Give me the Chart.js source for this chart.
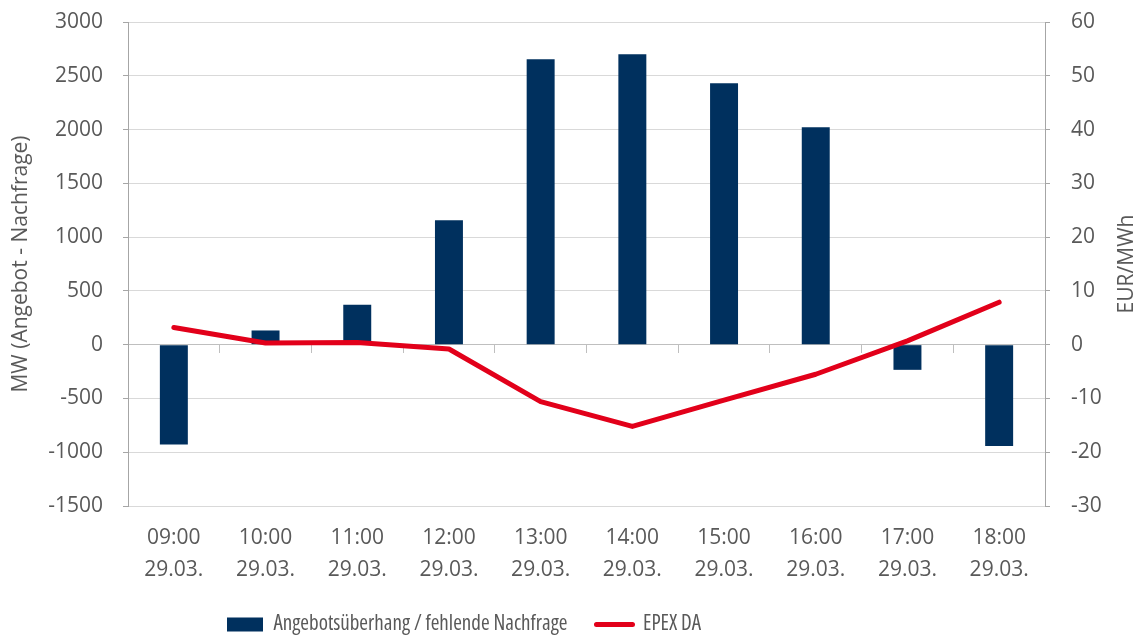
<!DOCTYPE html>
<html>
<head>
<meta charset="utf-8">
<script src="https://cdn.jsdelivr.net/npm/chart.js@4.4.1/dist/chart.umd.min.js"></script>
<style>
  html, body { margin: 0; padding: 0; background: #fff; }
  #wrap { width: 1143px; height: 635px; position: relative; }
</style>
</head>
<body>
<div id="wrap"><canvas id="c"></canvas></div>
<script>
// Stunden und Datum (zweizeilige Achsenbeschriftung)
const TIMES = ['09:00', '10:00', '11:00', '12:00', '13:00', '14:00', '15:00', '16:00', '17:00', '18:00'];
const DATES = ['29.03.', '29.03.', '29.03.', '29.03.', '29.03.', '29.03.', '29.03.', '29.03.', '29.03.', '29.03.'];

// MW (Angebot - Nachfrage)
const SURPLUS_MW = [-928, 132, 370, 1157, 2654, 2701, 2431, 2022, -234, -943];
// EUR/MWh
const EPEX_DA = [3.2, 0.3, 0.4, -0.8, -10.6, -15.2, -10.3, -5.5, 0.7, 7.9];

const MW_AXIS = { min: -1500, max: 3000, step: 500 };
const EUR_AXIS = { min: -30, max: 60, step: 10 };

const BAR_LABEL = 'Angebotsüberhang / fehlende Nachfrage';
const LINE_LABEL = 'EPEX DA';
const LEFT_TITLE = 'MW (Angebot - Nachfrage)';
const RIGHT_TITLE = 'EUR/MWh';

const NAVY = '#00305e', RED = '#e2001a';
const TEXT = '#595959', GRID = '#d9d9d9', AXIS = '#a6a6a6';
const FAMILY = "'Open Sans', sans-serif";
const SIZE = 21;

Chart.defaults.animation = false;
Chart.defaults.font.family = FAMILY;
Chart.defaults.font.size = SIZE;
Chart.defaults.color = TEXT;

const LEGEND_PAD = 29;

// y-Achsen: feste Breite, kein Zusatzabstand oben/unten durch die Beschriftung
const fixY = w => s => { s.width = w; s.paddingTop = 0; s.paddingBottom = 0; };

// Rechter Achsentitel von unten nach oben lesen (wie links);
// Legende an feste Position wie in der Vorlage.
const tweaks = {
  id: 'tweaks',
  beforeLayout(chart) {
    const lg = chart.legend;
    if (lg && !lg._fixed) {
      const fit = lg.fit;
      lg.fit = function () { fit.call(this); this.height = 30; };
      lg._fixed = true;
    }
  },
  afterLayout(chart) {
    const lg = chart.legend;
    if (!lg) return;
    lg.left = 227 - LEGEND_PAD;
    lg.top = 585;
    lg.bottom = chart.height;
    lg.height = lg.bottom - lg.top;
  },
  afterDraw(chart) {
    const s = chart.scales.y2, a = chart.chartArea, ctx = chart.ctx;
    ctx.save();
    ctx.translate(s.right - 16, (a.top + a.bottom) / 2);
    ctx.rotate(-Math.PI / 2);
    ctx.font = `${SIZE}px ${FAMILY}`;
    ctx.fillStyle = TEXT;
    ctx.textAlign = 'center';
    ctx.textBaseline = 'middle';
    ctx.fillText(RIGHT_TITLE, 0, 0);
    ctx.restore();
  },
};

new Chart(document.getElementById('c'), {
  type: 'bar',
  data: {
    labels: TIMES.map((t, i) => [t, DATES[i]]),
    datasets: [
      {
        type: 'line',
        label: LINE_LABEL,
        data: EPEX_DA,
        yAxisID: 'y2',
        borderColor: RED,
        backgroundColor: RED,
        borderWidth: 5,
        borderCapStyle: 'round',
        borderJoinStyle: 'round',
        pointRadius: 0,
        tension: 0,
        order: 0,
      },
      {
        label: BAR_LABEL,
        data: SURPLUS_MW,
        yAxisID: 'y',
        backgroundColor: NAVY,
        categoryPercentage: 1,
        barPercentage: 0.305,
        order: 1,
      },
    ],
  },
  options: {
    responsive: true, maintainAspectRatio: false,
    layout: { padding: { top: 22, bottom: 0, left: 0, right: 0 } },
    plugins: {
      tooltip: { enabled: false },
      legend: {
        position: 'bottom',
        align: 'start',
        labels: {
          usePointStyle: true,
          pointStyleWidth: 36,
          boxHeight: 14,
          padding: LEGEND_PAD,
          color: TEXT,
          font: { weight: 'condensed' },
          generateLabels: () => [
            { text: BAR_LABEL, fillStyle: NAVY, strokeStyle: NAVY, lineWidth: 0, pointStyle: 'rect', datasetIndex: 1, fontColor: TEXT },
            { text: LINE_LABEL, fillStyle: RED, strokeStyle: RED, lineWidth: 5, lineCap: 'round', pointStyle: 'line', datasetIndex: 0, fontColor: TEXT },
          ],
        },
      },
    },
    scales: {
      x: {
        type: 'category',
        offset: true,
        grid: { display: false, offset: true },
        border: { display: false },
        ticks: { padding: 8, maxRotation: 0, font: { lineHeight: 1.52 } },
        afterFit: s => { s.height = 99; },
      },
      xZero: {
        type: 'category',
        position: { y: 0 },
        offset: true,
        grid: { offset: true, drawOnChartArea: false, drawTicks: true, tickLength: 8, tickColor: '#bfbfbf' },
        border: { display: true, color: '#bfbfbf' },
        ticks: { display: false },
      },
      y: {
        position: 'left',
        min: MW_AXIS.min, max: MW_AXIS.max,
        ticks: { stepSize: MW_AXIS.step, padding: 20, callback: v => String(v) },
        grid: { color: GRID, tickColor: AXIS, tickLength: 5 },
        border: { color: AXIS },
        title: { display: true, text: LEFT_TITLE, padding: { top: 8, bottom: 0 } },
        afterFit: fixY(128),
      },
      y2: {
        position: 'right',
        min: EUR_AXIS.min, max: EUR_AXIS.max,
        ticks: { stepSize: EUR_AXIS.step, padding: 21, callback: v => String(v) },
        grid: { drawOnChartArea: false, tickColor: AXIS, tickLength: 5 },
        border: { color: AXIS },
        afterFit: fixY(98),
      },
    },
  },
  plugins: [tweaks],
});
</script>
</body>
</html>
